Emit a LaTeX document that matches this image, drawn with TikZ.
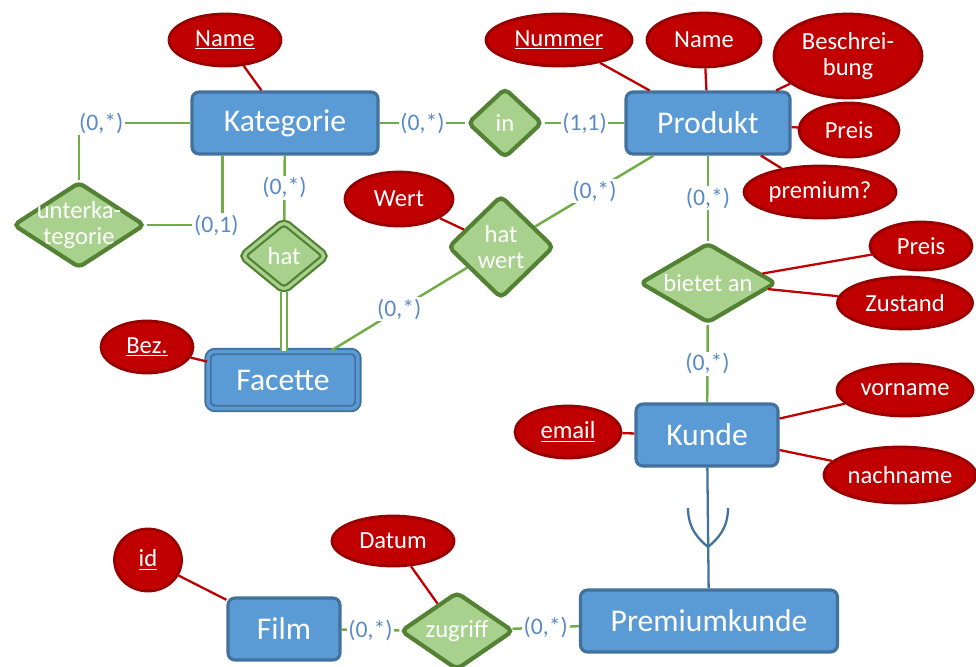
\documentclass[tikz,border=0pt]{standalone}
\usepackage{fontspec}
\setmainfont{Carlito}
\usetikzlibrary{shapes.geometric,calc}

\definecolor{entFill}{HTML}{5B9BD5}
\definecolor{entDraw}{HTML}{41719C}
\definecolor{relFill}{HTML}{A9D18E}
\definecolor{relDraw}{HTML}{548235}
\definecolor{attFill}{HTML}{C00000}
\definecolor{attDraw}{HTML}{980000}
\definecolor{linkGreen}{HTML}{70AD47}
\definecolor{cardBlue}{HTML}{5A8AC6}

\tikzset{
  entity/.style={rectangle, rounded corners=4pt, fill=entFill, draw=entDraw,
    line width=1.8pt, text=white, font=\fontsize{18}{20}\selectfont, inner sep=0pt},
  relation/.style={diamond, rounded corners=3pt, fill=relFill, draw=relDraw,
    line width=2.4pt, inner sep=0pt, label={[relText]center:#1}},
  relText/.style={text=white, font=\fontsize{14}{15}\selectfont, align=center},
  attribute/.style={ellipse, fill=attFill, draw=attDraw, line width=1.6pt,
    text=white, font=\fontsize{14}{15}\selectfont, align=center, inner sep=0pt},
  cardLine/.style={draw=linkGreen, line width=1.4pt},
  attrLine/.style={draw=attFill, line width=1.3pt},
  isaLine/.style={draw=entDraw, line width=1.3pt},
  cardLabel/.style={fill=white, text=cardBlue, font=\fontsize{13.5}{15}\selectfont, inner sep=1pt},
}
\newcommand{\myLink}[4][]{
\draw[cardLine] (#2) -- node[cardLabel,#1]{#4} (#3);
}

\begin{document}
\begin{tikzpicture}[x=0.02cm, y=-0.02cm]
	\useasboundingbox (0,0) rectangle (976,666);

	% entities
	\node[entity, minimum width=3.72cm, minimum height=1.24cm] (kategorie) at (285,123) {Kategorie};
	\node[entity, minimum width=3.28cm, minimum height=1.24cm] (produkt) at (708,123) {Produkt};
	\node[entity, minimum width=3.0cm, minimum height=1.14cm, line width=1.1pt,
	      double=entFill, double distance=2pt] (facette) at (283,380) {Facette};
	\node[entity, minimum width=2.84cm, minimum height=1.24cm] (kunde) at (707,435) {Kunde};
	\node[entity, minimum width=5.14cm, minimum height=1.24cm] (premiumkunde) at (709,621) {Premiumkunde};
	\node[entity, minimum width=2.24cm, minimum height=1.24cm] (film) at (284,629) {Film};

	% relationships
	\node[relation={in}, minimum width=1.5cm, minimum height=1.4cm] (in) at (505,123) {};
	\node[relation={unterka-\\tegorie}, minimum width=2.64cm, minimum height=1.72cm] (unterkat) at (79,225) {};
	\node[relation={hat}, minimum width=1.7cm, minimum height=1.4cm, line width=1.3pt,
	      double=relFill, double distance=1.8pt] (hat) at (284,256) {};
	\node[relation={hat\\wert}, minimum width=2.12cm, minimum height=2.06cm] (hatwert) at (501,247) {};
	\node[relation={bietet an}, minimum width=2.72cm, minimum height=1.6cm] (bietetan) at (708,283) {};
	\node[relation={zugriff}, minimum width=2.26cm, minimum height=1.56cm] (zugriff) at (457,631) {};

	% attributes
	\node[attribute, minimum width=2.24cm, minimum height=1.04cm] (katName) at (225,40) {\underline{Name}};
	\node[attribute, minimum width=2.92cm, minimum height=1.04cm] (nummer) at (559,40) {\underline{Nummer}};
	\node[attribute, minimum width=2.28cm, minimum height=1.08cm] (prodName) at (704,40) {Name};
	\node[attribute, minimum width=2.96cm, minimum height=1.68cm] (beschreibung) at (848,56) {Beschrei-\\bung};
	\node[attribute, minimum width=2.0cm, minimum height=1.08cm] (prodPreis) at (849,130) {Preis};
	\node[attribute, minimum width=3.04cm, minimum height=1.04cm] (isPremium) at (820,192) {premium?};
	\node[attribute, minimum width=2.16cm, minimum height=1.08cm] (wert) at (399,199) {Wert};
	\node[attribute, minimum width=1.84cm, minimum height=1.04cm] (bez) at (147,347) {\underline{Bez.}};
	\node[attribute, minimum width=2.04cm, minimum height=0.96cm] (angPreis) at (921,246) {Preis};
	\node[attribute, minimum width=2.7cm, minimum height=1.04cm] (zustand) at (905,303) {Zustand};
	\node[attribute, minimum width=2.72cm, minimum height=1.04cm] (vorname) at (905,390) {vorname};
	\node[attribute, minimum width=3.04cm, minimum height=1.12cm] (nachname) at (900,475) {nachname};
	\node[attribute, minimum width=2.12cm, minimum height=1.04cm] (email) at (568,432) {\underline{email}};
	\node[attribute, minimum width=1.34cm, minimum height=1.24cm] (id) at (148,560) {\underline{id}};
	\node[attribute, minimum width=2.44cm, minimum height=1.0cm] (datum) at (393,541) {Datum};

	% attribute lines
	\draw[attrLine] (katName) -- (kategorie) (nummer) -- (produkt) (prodName) -- (produkt)
	  (beschreibung) -- (produkt) (prodPreis) -- (produkt) (isPremium) -- (produkt)
	  (wert) -- (hatwert) (bez) -- (facette) (angPreis) -- (bietetan) (zustand) -- (bietetan)
	  (vorname) -- (kunde) (nachname) -- (kunde) (email) -- (kunde)
	  (id) -- (film) (datum) -- (zugriff);

	% relationship lines
	\myLink{kategorie}{in}{(0,*)}
	\myLink{in}{produkt}{(1,1)}
	\myLink{kategorie}{hat}{(0,*)}
	\myLink{hatwert}{produkt}{(0,*)}
	\myLink{hatwert}{facette}{(0,*)}
	\myLink{produkt}{bietetan}{(0,*)}
	\myLink{bietetan}{kunde}{(0,*)}
	\myLink{film}{zugriff}{(0,*)}
	\myLink{zugriff}{premiumkunde}{(0,*)}
	\draw[cardLine] (kategorie.west) -| node[cardLabel, pos=.4]{(0,*)} (unterkat.north);
	\draw[cardLine] (unterkat.east) -| node[cardLabel, pos=.46]{(0,1)} ([xshift=0.64cm]kategorie.south west);
	\draw[cardLine, line width=1.1pt, double=white, double distance=2pt] (hat.south) -- (hat.south |- facette.north);

	% is-a
	\draw[isaLine] (kunde) -- (premiumkunde);
	\path (kunde.south) -- coordinate[midway] (isa) (premiumkunde.north);
	\draw[isaLine] ($(isa)+(-20,-20)$) .. controls ($(isa)+(-20,2)$) and ($(isa)+(-8,12)$) .. ($(isa)+(0,19)$)
	  .. controls ($(isa)+(8,12)$) and ($(isa)+(20,2)$) .. ($(isa)+(20,-20)$);
\end{tikzpicture}
\end{document}
